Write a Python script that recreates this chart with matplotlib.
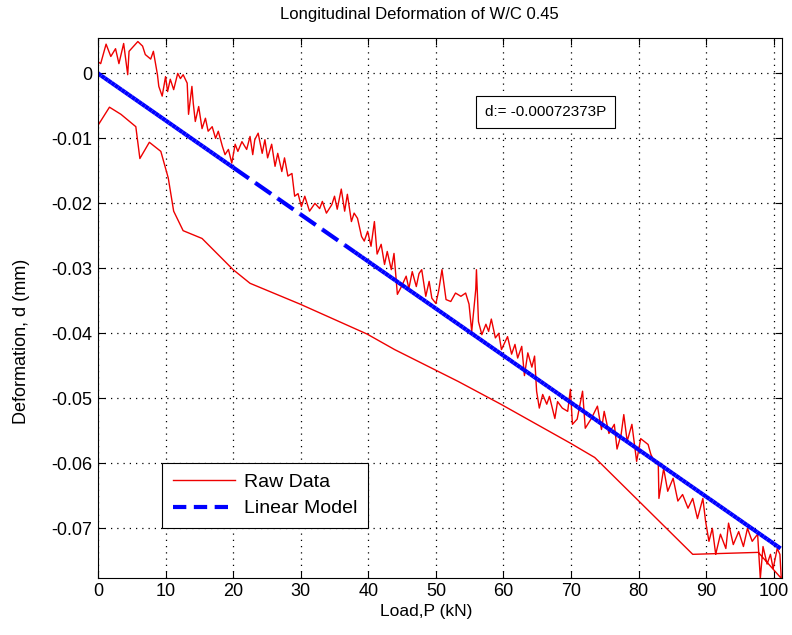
import matplotlib
matplotlib.use('Agg')
import matplotlib.pyplot as plt
import numpy as np
from matplotlib.collections import LineCollection
from matplotlib.lines import Line2D

plt.rcParams['font.family'] = ['Liberation Sans', 'DejaVu Sans']
plt.rcParams['axes.unicode_minus'] = False

# raw data, loading branch (noisy upper curve)
P_up = [0, 0.4, 1.2, 1.9, 2.6, 3.1, 3.8, 4.4, 4.6, 5.9, 6.6, 7.0, 7.8, 8.2, 8.8, 9.0,
        9.5, 10.0, 10.3, 10.7, 11.2, 11.8, 12.2, 12.6, 13.2, 13.4, 13.9, 14.1, 14.4,
        14.9, 15.4, 15.9, 16.3, 16.9, 17.4, 17.8, 18.4, 18.8, 19.3, 19.8, 20.3, 20.7,
        21.3, 22.0, 22.5, 22.9, 23.2, 23.7, 24.3, 24.7, 25.1, 25.7, 26.2, 26.6, 27.2,
        27.6, 28.1, 28.7, 29.1, 29.6, 30.1, 30.6, 31.3, 32.1, 32.8, 33.2, 33.8, 34.6,
        35.0, 35.4, 36.0, 36.5, 36.9, 37.5, 37.9, 38.4, 39.0, 39.4, 39.9, 40.4, 40.9,
        41.3, 41.9, 42.4, 42.8, 43.4, 43.8, 44.3, 44.9, 45.6, 46.0, 46.5, 47.1, 47.5,
        47.9, 48.5, 49.0, 49.4, 50.0, 50.4, 50.9, 51.5, 52.2, 52.9, 53.7, 54.4, 54.9,
        55.3, 55.9, 56.0, 56.3, 56.8, 57.4, 57.8, 58.2, 58.8, 59.3, 59.7, 60.6, 61.2,
        61.7, 62.1, 62.7, 63.1, 63.6, 64.2, 64.6, 64.9, 65.3, 65.8, 66.4, 66.8, 67.6,
        68.0, 68.7, 69.5, 69.9, 70.2, 70.9, 71.7, 72.1, 73.0, 73.9, 74.5, 74.9, 75.6,
        76.4, 76.8, 77.4, 77.8, 78.3, 79.0, 79.7, 80.3, 81.4, 81.8, 82.3, 82.9, 83.0,
        83.7, 84.3, 85.1, 85.8, 86.5, 87.3, 88.0, 88.7, 89.5, 89.9, 90.4, 90.9, 91.4,
        92.1, 92.9, 93.3, 94.0, 94.8, 95.5, 96.1, 96.8, 97.6, 98.0, 98.4, 99.0, 99.5,
        99.9, 100.5, 100.9, 101.1]
d_up = [0.0018, 0.0015, 0.0045, 0.0026, 0.0038, 0.0015, 0.0046, -0.0002, 0.0034,
        0.0049, 0.0042, 0.0029, 0.0022, 0.0034, -0.0002, -0.0020, -0.0035, -0.0005,
        -0.0028, -0.0009, -0.0025, 0.0000, -0.0008, -0.0002, -0.0015, -0.0063, -0.0020,
        -0.0046, -0.0074, -0.0051, -0.0085, -0.0069, -0.0089, -0.0082, -0.0100, -0.0089,
        -0.0112, -0.0125, -0.0117, -0.0138, -0.0109, -0.0120, -0.0105, -0.0117, -0.0097,
        -0.0125, -0.0102, -0.0092, -0.0123, -0.0102, -0.0130, -0.0109, -0.0143, -0.0123,
        -0.0151, -0.0130, -0.0158, -0.0154, -0.0189, -0.0185, -0.0205, -0.0189, -0.0212,
        -0.0200, -0.0208, -0.0197, -0.0215, -0.0202, -0.0189, -0.0209, -0.0178, -0.0212,
        -0.0186, -0.0228, -0.0215, -0.0223, -0.0251, -0.0258, -0.0243, -0.0266, -0.0228,
        -0.0278, -0.0263, -0.0294, -0.0274, -0.0302, -0.0277, -0.0340, -0.0328, -0.0312,
        -0.0331, -0.0305, -0.0328, -0.0308, -0.0302, -0.0343, -0.0320, -0.0346, -0.0354,
        -0.0335, -0.0302, -0.0348, -0.0351, -0.0338, -0.0343, -0.0338, -0.0355, -0.0397,
        -0.0332, -0.0302, -0.0382, -0.0402, -0.0386, -0.0397, -0.0378, -0.0407, -0.0400,
        -0.0425, -0.0405, -0.0432, -0.0417, -0.0438, -0.0420, -0.0465, -0.0430, -0.0452,
        -0.0435, -0.0489, -0.0515, -0.0494, -0.0509, -0.0497, -0.0531, -0.0505, -0.0515,
        -0.0520, -0.0486, -0.0540, -0.0532, -0.0489, -0.0546, -0.0531, -0.0512, -0.0548,
        -0.0520, -0.0554, -0.0540, -0.0578, -0.0556, -0.0525, -0.0566, -0.0540, -0.0597,
        -0.0562, -0.0571, -0.0586, -0.0597, -0.0600, -0.0654, -0.0608, -0.0643, -0.0623,
        -0.0658, -0.0648, -0.0669, -0.0654, -0.0685, -0.0654, -0.0689, -0.0720, -0.0700,
        -0.0740, -0.0709, -0.0731, -0.0692, -0.0725, -0.0705, -0.0728, -0.0700, -0.0720,
        -0.0709, -0.0777, -0.0728, -0.0755, -0.0740, -0.0762, -0.0731, -0.0740, -0.0777]

# raw data, return branch (smooth lower curve)
P_down = [101.1, 97.7, 88.0, 73.5, 69.9, 59.6, 53.3, 43.9, 39.8, 29.9, 22.5, 20.0,
          15.4, 12.6, 11.2, 10.4, 9.3, 7.6, 6.2, 5.6, 3.4, 1.7, 0.3, 0.0]
d_down = [-0.0777, -0.0737, -0.0740, -0.0591, -0.0569, -0.0509, -0.0474, -0.0425,
          -0.0401, -0.0355, -0.0323, -0.0302, -0.0254, -0.0242, -0.0212, -0.0161,
          -0.0120, -0.0106, -0.0131, -0.0082, -0.0063, -0.0052, -0.0075, -0.0080]

slope = -0.00072373  # d = slope * P

# loads where the fitted model was evaluated (sparse between 20 and 38 kN)
P_fit = np.concatenate([np.arange(0, 20, 0.5), np.arange(20, 38, 3.3),
                        np.arange(38, 101.2, 0.5)])

xticks = [0, 10, 20, 30, 40, 50, 60, 70, 80, 90, 100]
yticks = [-0.07, -0.06, -0.05, -0.04, -0.03, -0.02, -0.01, 0]
ylabels = ['-0.07', '-0.06', '-0.05', '-0.04', '-0.03', '-0.02', '-0.01', '0']

fig = plt.figure(figsize=(7.92, 6.35), dpi=100)
ax = fig.add_axes([0.1237, 0.0902, 0.8636, 0.8495])

P_raw = np.concatenate([P_up, P_down])
d_raw = np.concatenate([d_up, d_down])
ax.plot(P_raw, d_raw, color='#ee0000', lw=1)

pts = np.column_stack([P_fit, slope * P_fit])
segs = np.stack([pts[:-1], pts[1:]], axis=1)
lc = LineCollection(segs, colors='#0000ff', linewidths=3,
                    linestyles=[(0, (4.6, 1.8))])
ax.add_collection(lc)

ax.set_xlim(0, 101.2)
ax.set_ylim(-0.0776, 0.0054)
ax.set_xticks(xticks)
ax.set_yticks(yticks)
ax.set_yticklabels(ylabels)
ax.tick_params(direction='in', top=True, right=True, length=5, width=0.8,
               labelsize=13, pad=4)
ax.grid(True, color='black', linestyle=(0, (1, 4)), lw=0.9)
for s in ax.spines.values():
    s.set_linewidth(0.8)

fig.text(419 / 792, 1 - 15 / 635, 'Longitudinal Deformation of W/C 0.45',
         fontsize=12, ha='center', va='center')
ax.set_xlabel('Load,P (kN)', fontsize=12.5, va='center')
ax.xaxis.set_label_coords((426 - 98) / 684, (577.7 - 611) / 539.4)
ax.set_ylabel('Deformation, d (mm)', fontsize=13)
ax.yaxis.set_label_coords((30 - 98) / 684, (578 - 341) / 540)

ax.text(66.2, -0.0059, 'd:= -0.00072373P', ha='center', va='center', fontsize=11,
        bbox=dict(boxstyle='square,pad=0.6', fc='white', ec='black', lw=0.8))

handles = [Line2D([], [], color='#ee0000', lw=1),
           Line2D([], [], color='#0000ff', lw=3, linestyle=(0, (3.2, 1.8)))]
leg = ax.legend(handles, ['Raw Data', 'Linear Model'], loc='lower left',
                bbox_to_anchor=(0.0936, 0.092), borderaxespad=0, fontsize=14,
                handlelength=3.2, handletextpad=0.45, fancybox=False, framealpha=1,
                edgecolor='black', borderpad=0.55, labelspacing=0.45)
leg.get_frame().set_linewidth(0.8)

fig.savefig('out.png', dpi=100)
